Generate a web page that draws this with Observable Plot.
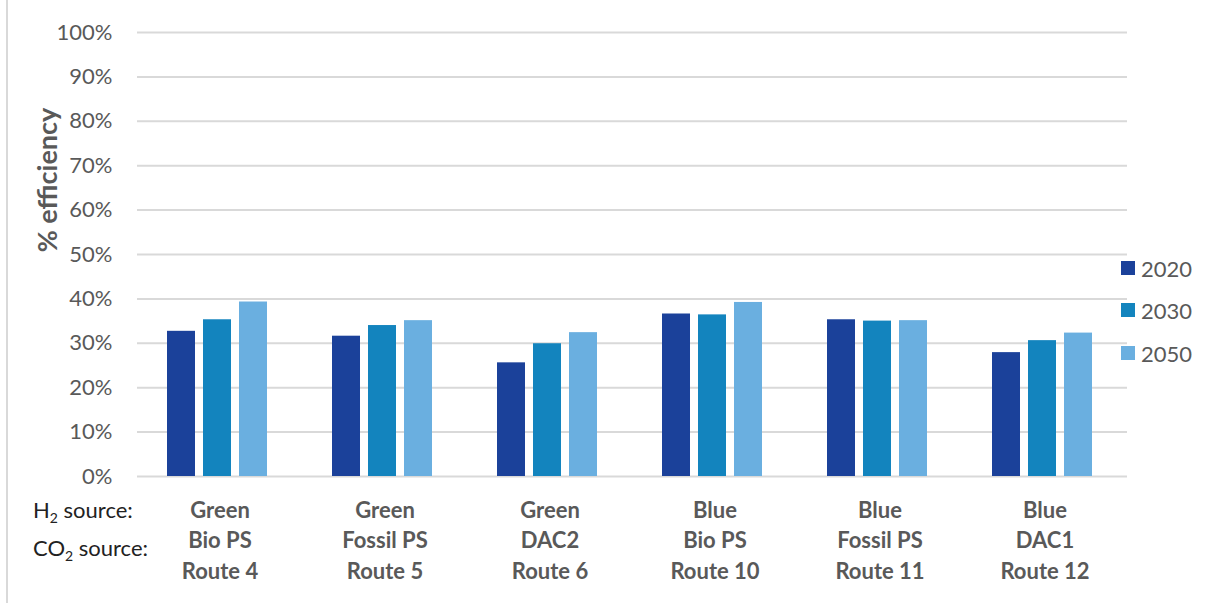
<!DOCTYPE html>
<html>
<head>
<meta charset="utf-8">
<script src="https://cdn.jsdelivr.net/npm/d3@7"></script>
<script src="https://cdn.jsdelivr.net/npm/@observablehq/plot@0.6"></script>
<style>
  body { margin: 0; background: #fff; font-family: Lato, "Open Sans", sans-serif; }
  #wrap { position: relative; width: 1213px; height: 603px; overflow: hidden; }
  .ov { position: absolute; white-space: nowrap; }
  .src { font-size: 22px; color: #222; line-height: 30px; }
  .leg { font-size: 22px; color: #595959; display: flex; align-items: center; height: 24px; }
  .sw { width: 14px; height: 14px; margin-right: 6px; display: inline-block; }
</style>
</head>
<body>
<div id="wrap"></div>
<script>
const routes = ["Route 4", "Route 5", "Route 6", "Route 10", "Route 11", "Route 12"];
const h2Sources = ["Green", "Green", "Green", "Blue", "Blue", "Blue"];
const co2Sources = ["Bio PS", "Fossil PS", "DAC2", "Bio PS", "Fossil PS", "DAC1"];
const years = ["2020", "2030", "2050"];
const values2020 = [0.327, 0.316, 0.256, 0.366, 0.353, 0.279];
const values2030 = [0.353, 0.340, 0.299, 0.364, 0.350, 0.306];
const values2050 = [0.393, 0.351, 0.324, 0.392, 0.351, 0.323];
const yTicks = [0, 0.1, 0.2, 0.3, 0.4, 0.5, 0.6, 0.7, 0.8, 0.9, 1.0];
const colors = ["#1b419a", "#1384be", "#6aafe0"];

const series = [values2020, values2030, values2050];
const data = routes.flatMap((r, i) => years.map((y, j) => ({route: r, year: y, value: series[j][i]})));
const labels = routes.map((r, i) => ({route: r, text: h2Sources[i] + "\n" + co2Sources[i] + "\n" + r}));

const chart = Plot.plot({
  width: 1213,
  height: 603,
  marginLeft: 135,
  marginRight: 85,
  marginTop: 32,
  marginBottom: 127,
  style: {fontFamily: "Lato, 'Open Sans', sans-serif", color: "#595959", background: "transparent"},
  fx: {domain: routes, padding: 0, axis: null, label: null},
  x: {domain: years, axis: null, paddingInner: 0.22, paddingOuter: 0.86},
  y: {domain: [0, 1], label: null},
  color: {domain: years, range: colors},
  marks: [
    Plot.gridY(yTicks, {stroke: "#d9d9d9", strokeOpacity: 1, strokeWidth: 2}),
    Plot.axisY({ticks: yTicks, tickFormat: d => Math.round(d * 100) + "%", tickSize: 0, tickPadding: 25, fontSize: 22, label: null}),
    Plot.barY(data, {fx: "route", x: "year", y: "value", fill: "year", dx: -2}),
    Plot.text(labels, {fx: "route", text: "text", frameAnchor: "bottom", lineAnchor: "top", dy: 20, lineHeight: 1.38, fontSize: 22, fontWeight: "bold", fill: "#595959"})
  ]
});

const wrap = document.getElementById("wrap");
chart.style.position = "absolute";
chart.style.left = "0px";
chart.style.top = "0px";
wrap.appendChild(chart);

// left border line
const border = document.createElement("div");
border.className = "ov";
border.style.cssText = "left:6px;top:0;width:2px;height:603px;background:#d9d9d9;";
wrap.appendChild(border);

// y axis title
const yt = document.createElement("div");
yt.className = "ov";
yt.textContent = "% efficiency";
yt.style.cssText = "left:46px;top:180px;transform:translate(-50%,-50%) rotate(-90deg);font-size:27px;font-weight:bold;color:#595959;";
wrap.appendChild(yt);

// source row labels
const src = document.createElement("div");
src.className = "ov src";
src.style.cssText += "left:33px;top:495px;";
src.innerHTML = "H<sub style='font-size:14px;vertical-align:-5px'>2</sub> source:<br>CO<sub style='font-size:14px;vertical-align:-5px'>2</sub> source:";
wrap.appendChild(src);

// legend
const legTops = [256, 298, 341];
years.forEach((y, i) => {
  const row = document.createElement("div");
  row.className = "ov leg";
  row.style.left = "1121px";
  row.style.top = legTops[i] + "px";
  row.innerHTML = `<span class="sw" style="background:${colors[i]}"></span>${y}`;
  wrap.appendChild(row);
});
</script>
</body>
</html>
